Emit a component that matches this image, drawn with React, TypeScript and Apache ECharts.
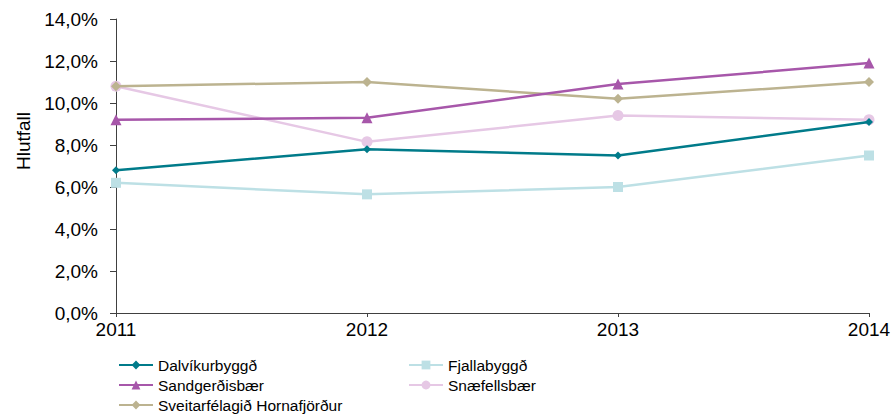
import React, { useEffect, useRef } from "react";
import * as echarts from "echarts";

const years = ["2011", "2012", "2013", "2014"];
const dalvik = [6.8, 7.8, 7.5, 9.1];
const fjalla = [6.2, 5.65, 6.0, 7.5];
const sandgerdi = [9.2, 9.3, 10.9, 11.9];
const snaefells = [10.8, 8.15, 9.4, 9.2];
const sveitarf = [10.8, 11.0, 10.2, 11.0];

const names = ["Dalvíkurbyggð", "Fjallabyggð", "Sandgerðisbær", "Snæfellsbær", "Sveitarfélagið Hornafjörður"];
const colors = ["#007b8a", "#bde0e5", "#a757aa", "#e6c8e5", "#bcb390"];
const symbols = ["diamond", "rect", "triangle", "circle", "diamond"];
const symbolSizes = [8, 10, 11, 11, 10];
const seriesData = [dalvik, fjalla, sandgerdi, snaefells, sveitarf];

const FONT = "'Liberation Sans', Arial, sans-serif";

export default function App() {
  const ref = useRef<HTMLDivElement>(null);
  useEffect(() => {
    const chart = echarts.init(ref.current!, undefined, { renderer: "svg" });
    const legendText = { fontFamily: FONT, fontSize: 15.5, lineHeight: 18, color: "#000" };
    const legendBase = {
      orient: "vertical",
      top: 356,
      height: 60,
      itemWidth: 34,
      itemHeight: 11,
      itemGap: 2,
      textStyle: legendText,
      padding: 0,
    };
    chart.setOption({
      animation: false,
      grid: { left: 116, right: 26, top: 19, bottom: 104, containLabel: false },
      xAxis: {
        type: "category",
        data: years,
        boundaryGap: false,
        axisLine: { lineStyle: { color: "#404040", width: 1 } },
        axisTick: { show: true, length: 4, lineStyle: { color: "#404040" } },
        axisLabel: { color: "#000", fontFamily: FONT, fontSize: 19, margin: 7 },
      },
      yAxis: {
        type: "value",
        min: 0,
        max: 14,
        interval: 2,
        name: "Hlutfall",
        nameLocation: "middle",
        nameRotate: 90,
        nameGap: 83,
        nameTextStyle: { color: "#000", fontFamily: FONT, fontSize: 19, padding: [0, 0, 0, 50] },
        splitLine: { show: false },
        axisLine: { show: true, lineStyle: { color: "#404040", width: 1 } },
        axisTick: { show: true, length: 6, lineStyle: { color: "#404040" } },
        axisLabel: {
          color: "#000",
          fontFamily: FONT,
          fontSize: 19,
          margin: 18,
          formatter: (v: number) => v.toFixed(1).replace(".", ",") + "%",
        },
      },
      legend: [
        { ...legendBase, left: 118, data: [names[0], names[2], names[4]] },
        { ...legendBase, left: 408, data: [names[1], names[3]] },
      ],
      series: names.map((n, i) => ({
        name: n,
        type: "line",
        data: seriesData[i],
        symbol: symbols[i],
        symbolSize: symbolSizes[i],
        showSymbol: true,
        lineStyle: { color: colors[i], width: 2.5 },
        itemStyle: { color: colors[i] },
        z: [5, 1, 4, 2, 3][i],
      })),
    });
    return () => chart.dispose();
  }, []);
  return <div ref={ref} style={{ width: 895, height: 417, position: "absolute", left: 0, top: 0 }} />;
}
